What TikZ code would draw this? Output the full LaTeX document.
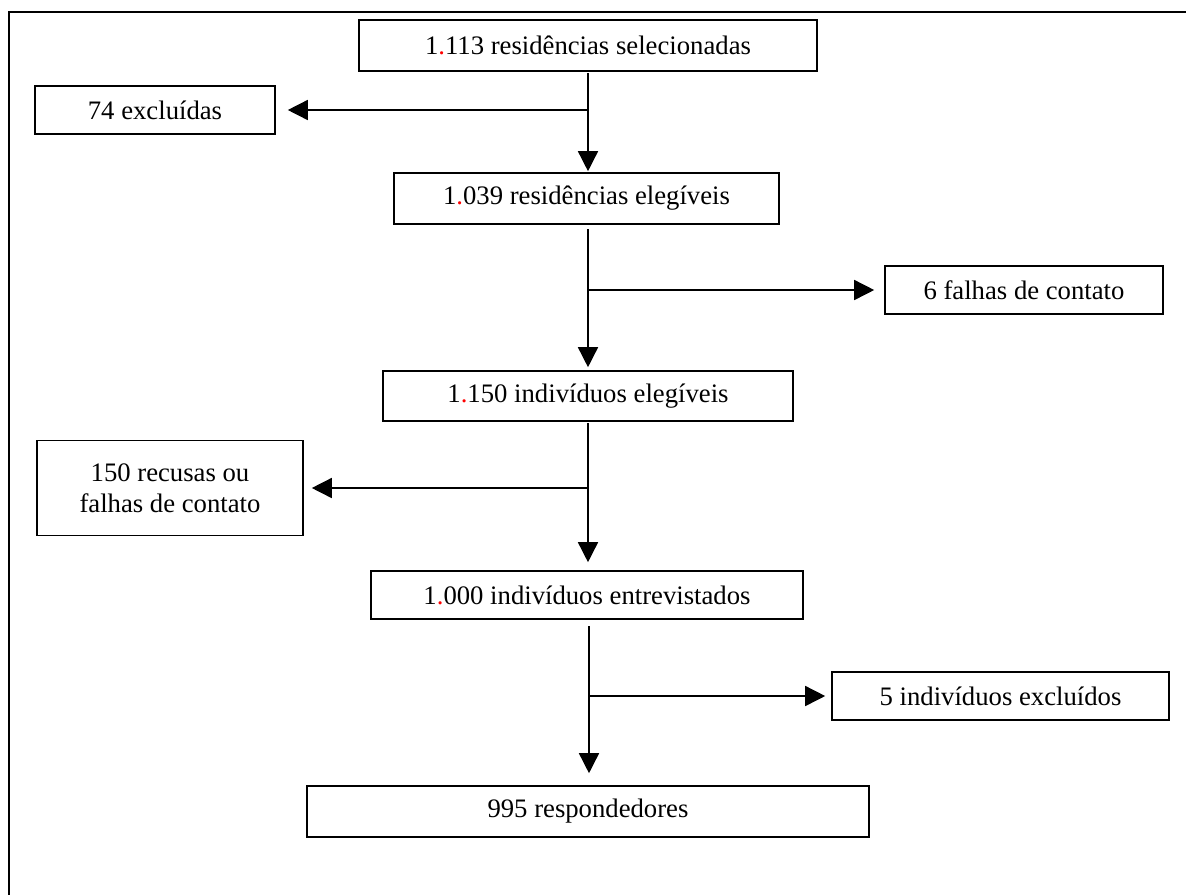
\documentclass[tikz,border=0pt]{standalone}
\usepackage{fontspec}
\setmainfont{Liberation Serif}
\usetikzlibrary{arrows.meta}
\newcommand{\rd}{\textcolor{red}{.}}
\begin{document}
\begin{tikzpicture}[x=1pt,y=-1pt,
  box/.style={draw,line width=1.6pt,inner sep=0pt,align=center,
    font=\fontsize{26.7}{31}\selectfont},
  arr/.style={line width=1.5pt,-{Triangle[length=20pt,width=20pt]}}]
\useasboundingbox (0,0) rectangle (1186,895);
\draw[line width=2pt] (1186,12) -- (9,12) -- (9,895);
\node[box,minimum width=458pt,minimum height=51pt] (b1) at (588,45.5) {1\rd113 residências selecionadas};
\node[box,minimum width=240pt,minimum height=48pt] (ex1) at (155,110) {74 excluídas};
\node[box,minimum width=385pt,minimum height=51pt] (b2) at (586.5,198.5) {1\rd039 residências elegíveis};
\node[box,minimum width=278pt,minimum height=48pt] (f6) at (1024,290) {6 falhas de contato};
\node[box,minimum width=410pt,minimum height=50pt] (b3) at (588,396) {1\rd150 indivíduos elegíveis};
\node[box,minimum width=266pt,minimum height=95pt] (rec) at (170,488) {150 recusas ou\\falhas de contato};
\node[box,minimum width=432pt,minimum height=48pt] (b4) at (587,595) {1\rd000 indivíduos entrevistados};
\node[box,minimum width=337pt,minimum height=48pt] (ex5) at (1000.5,696) {5 indivíduos excluídos};
\node[box,minimum width=562pt,minimum height=51pt] (b5) at (588,811.5) {995 respondedores};
\coordinate (v1) at (588,71);
\coordinate (v2) at (588,224);
\coordinate (v3) at (588,421);
\coordinate (v4) at (589,619);
\draw[arr,shorten <=2pt,shorten >=1pt] (v1) -- (v1 |- b2.north);
\draw[arr,shorten >=12pt] (v1 |- ex1.east) -- (ex1.east);
\draw[arr,shorten <=5pt,shorten >=3pt] (v2) -- (v2 |- b3.north);
\draw[arr,shorten >=10pt] (v2 |- f6.west) -- (f6.west);
\draw[arr,shorten <=2pt,shorten >=8pt] (v3) -- (v3 |- b4.north);
\draw[arr,shorten >=8pt] (v3 |- rec.east) -- (rec.east);
\draw[arr,shorten <=7pt,shorten >=12pt] (v4) -- (v4 |- b5.north);
\draw[arr,shorten >=6pt] (v4 |- ex5.west) -- (ex5.west);
\end{tikzpicture}
\end{document}
